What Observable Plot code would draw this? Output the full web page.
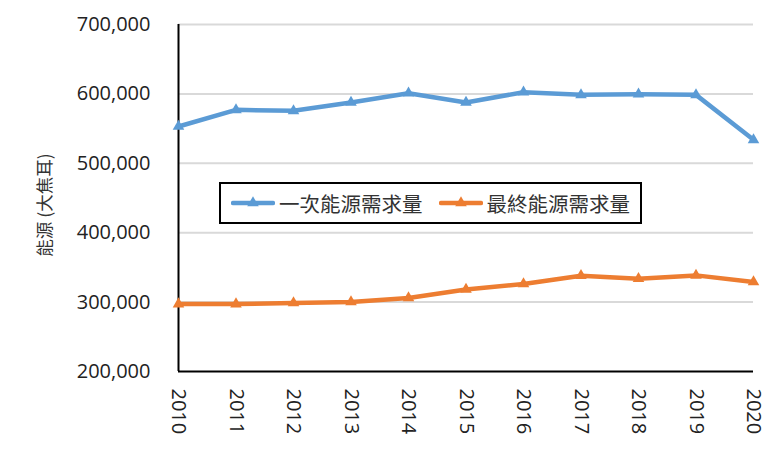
<!DOCTYPE html>
<html>
<head>
<meta charset="utf-8">
<script src="https://cdn.jsdelivr.net/npm/d3@7"></script>
<script src="https://cdn.jsdelivr.net/npm/@observablehq/plot@0.6"></script>
<style>
  body { margin: 0; background: #fff; }
  #wrap { position: relative; width: 781px; height: 450px; font-family: "Open Sans", "Noto Sans CJK TC", sans-serif; }
  #legend { position: absolute; left: 219px; top: 182px; width: 419px; height: 38px; border: 2px solid #000; background: #fff;
    display: flex; align-items: center; font-size: 20.5px; color: #333; font-family: "Noto Sans CJK TC", sans-serif; box-sizing: content-box; }
  .item { display: flex; align-items: center; }
  .item svg { display: block; margin-right: 4px; }
</style>
</head>
<body>
<div id="wrap"></div>
<script>
const years = [2010, 2011, 2012, 2013, 2014, 2015, 2016, 2017, 2018, 2019, 2020];
const primaryDemand = [553000, 577000, 575600, 587600, 601000, 587600, 602400, 598600, 599500, 598600, 533800];
const finalDemand = [297200, 297200, 298700, 300100, 305900, 318300, 326100, 338000, 333700, 338500, 329000];
const seriesNames = ["一次能源需求量", "最終能源需求量"];
const seriesColors = ["#5b9bd5", "#ed7d31"];
const yTicks = [200000, 300000, 400000, 500000, 600000, 700000];
const yLabel = "能源 (大焦耳)";

const rows = [];
years.forEach((yr, i) => {
  rows.push({year: yr, value: primaryDemand[i], series: seriesNames[0]});
  rows.push({year: yr, value: finalDemand[i], series: seriesNames[1]});
});

const chart = Plot.plot({
  width: 781,
  height: 450,
  marginLeft: 178,
  marginRight: 28,
  marginTop: 24,
  marginBottom: 79,
  style: {fontFamily: "'Open Sans', 'Noto Sans CJK TC', sans-serif", color: "#222", background: "#fff"},
  x: {domain: [2010, 2020]},
  y: {domain: [200000, 700000]},
  color: {domain: seriesNames, range: seriesColors},
  marks: [
    Plot.gridY(yTicks.slice(1), {stroke: "#d9d9d9", strokeOpacity: 1, strokeWidth: 2}),
    Plot.axisY({ticks: yTicks, tickSize: 0, tickPadding: 28, tickFormat: d3.format(","), fontSize: 20, label: null}),
    Plot.axisX({ticks: years, tickSize: 0, tickRotate: 90, tickPadding: 17, fontSize: 20, tickFormat: d => String(d), label: null}),
    Plot.text([yLabel], {frameAnchor: "left", textAnchor: "middle", rotate: -90, dx: -133, dy: 7, fontSize: 17.5, fill: "#333", fontFamily: "'Noto Sans CJK TC', sans-serif"}),
    Plot.ruleX([2010], {stroke: "#000", strokeWidth: 2}),
    Plot.ruleY([200000], {stroke: "#000", strokeWidth: 2}),
    Plot.line(rows, {x: "year", y: "value", z: "series", stroke: "series", strokeWidth: 4.5, strokeLinejoin: "round", strokeLinecap: "round"}),
    Plot.dot(rows, {x: "year", y: "value", fill: "series", symbol: "triangle", r: 4.3, stroke: null})
  ]
});

const wrap = document.getElementById("wrap");
wrap.appendChild(chart);

const legend = document.createElement("div");
legend.id = "legend";
seriesNames.forEach((name, i) => {
  const item = document.createElement("div");
  item.className = "item";
  item.style.marginLeft = i === 0 ? "10px" : "16px";
  const c = seriesColors[i];
  item.innerHTML = `<svg width="44" height="14"><line x1="2" y1="7" x2="42" y2="7" stroke="${c}" stroke-width="4.5" stroke-linecap="round"/><path d="${d3.symbol(d3.symbolTriangle, 58)()}" transform="translate(22,7)" fill="${c}"/></svg><span>${name}</span>`;
  legend.appendChild(item);
});
wrap.appendChild(legend);
</script>
</body>
</html>
